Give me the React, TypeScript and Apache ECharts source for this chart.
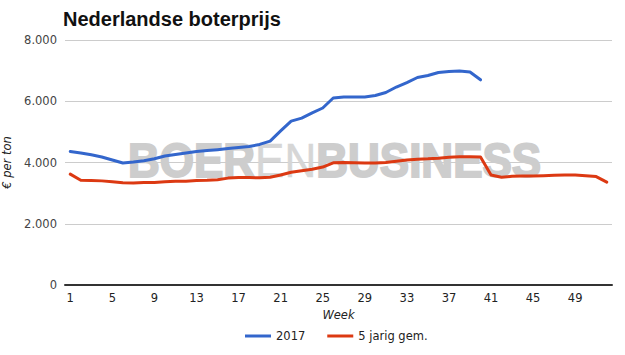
import React, { useEffect, useRef } from "react";
import * as echarts from "echarts";

const weeks: string[] = Array.from({ length: 52 }, (_, i) => String(i + 1));

const series2017: number[] = [
  4360, 4310, 4250, 4180, 4080, 3985, 4015, 4060, 4120, 4210,
  4260, 4310, 4360, 4390, 4420, 4455, 4490, 4520, 4590, 4700,
  5030, 5350, 5450, 5620, 5780, 6105, 6140, 6140, 6140, 6190,
  6285, 6465, 6610, 6775, 6840, 6940, 6970, 6985, 6955, 6700,
];

const series5jarig: number[] = [
  3620, 3420, 3410, 3400, 3370, 3340, 3330, 3350, 3350, 3370,
  3390, 3390, 3410, 3420, 3440, 3490, 3510, 3510, 3500, 3520,
  3590, 3680, 3730, 3780, 3850, 3990, 4000, 3990, 3980, 3980,
  4000, 4040, 4080, 4110, 4120, 4140, 4170, 4190, 4190, 4180,
  3590, 3520, 3550, 3560, 3560, 3570, 3580, 3590, 3590, 3570,
  3540, 3360,
];

const seriesNames: string[] = ["2017", "5 jarig gem."];
const yTicks = { min: 0, max: 8000, interval: 2000 };

const fmt = (v: number) => String(v).replace(/\B(?=(\d{3})+(?!\d))/g, ".");

export default function App() {
  const ref = useRef<HTMLDivElement>(null);
  useEffect(() => {
    if (!ref.current) return;
    const chart = echarts.init(ref.current, undefined, { renderer: "svg" });
    const font = "DejaVu Sans";
    chart.setOption({
      animation: false,
      backgroundColor: "#ffffff",
      title: {
        text: "Nederlandse boterprijs",
        left: 63,
        top: 9,
        padding: 0,
        textStyle: {
          fontFamily: "Liberation Sans",
          fontWeight: "bold",
          fontSize: 20,
          color: "#111",
        },
      },
      graphic: [
        {
          type: "text",
          x: 128,
          y: 160,
          scaleY: 1.1,
          z: 1,
          silent: true,
          style: {
            text: "{b|BOER}{n|EN}{b|BUSINESS}",
            verticalAlign: "middle",
            align: "left",
            rich: {
              b: {
                fontFamily: "Liberation Sans",
                fontWeight: "bold",
                fontSize: 44,
                fill: "#cdcdcd",
                stroke: "#cdcdcd",
                lineWidth: 1.8,
              },
              n: {
                fontFamily: "Liberation Sans",
                fontWeight: "normal",
                fontSize: 44,
                fill: "#d6d6d6",
                stroke: "#d6d6d6",
                lineWidth: 0.5,
              },
            },
          },
        },
      ],
      legend: {
        data: seriesNames,
        left: 245,
        top: 330,
        padding: 0,
        icon: "rect",
        itemWidth: 26,
        itemHeight: 3,
        itemGap: 22,
        textStyle: { fontFamily: font, fontSize: 11.5, color: "#222" },
      },
      grid: { left: 65, right: 13, top: 40, bottom: 70, outerBoundsMode: "none", containLabel: false },
      xAxis: {
        type: "category",
        data: weeks,
        boundaryGap: true,
        name: "Week",
        nameLocation: "middle",
        nameGap: 18,
        nameTextStyle: {
          fontFamily: font,
          fontStyle: "italic",
          fontSize: 11.5,
          color: "#222",
        },
        axisLine: { lineStyle: { color: "#333", width: 2 } },
        axisTick: { show: false },
        axisLabel: {
          interval: 3,
          margin: 7,
          fontFamily: font,
          fontSize: 11.5,
          color: "#222",
        },
        splitLine: { show: false },
      },
      yAxis: {
        type: "value",
        min: yTicks.min,
        max: yTicks.max,
        interval: yTicks.interval,
        name: "€ per ton",
        nameLocation: "middle",
        nameGap: 44,
        nameTextStyle: {
          fontFamily: font,
          fontStyle: "italic",
          fontSize: 11.5,
          color: "#222",
        },
        axisLine: { show: false },
        axisTick: { show: false },
        axisLabel: {
          margin: 8,
          fontFamily: font,
          fontSize: 11.5,
          color: "#444",
          formatter: (v: number) => fmt(v),
        },
        splitLine: { lineStyle: { color: "#cccccc", width: 1 } },
      },
      series: [
        {
          name: seriesNames[0],
          type: "line",
          data: series2017,
          showSymbol: false,
          symbol: "none",
          z: 3,
          itemStyle: { color: "#3366cc" },
          lineStyle: { color: "#3366cc", width: 3, join: "round", cap: "round" },
        },
        {
          name: seriesNames[1],
          type: "line",
          data: series5jarig,
          showSymbol: false,
          symbol: "none",
          z: 3,
          itemStyle: { color: "#dc3912" },
          lineStyle: { color: "#dc3912", width: 3, join: "round", cap: "round" },
        },
      ],
    });
    return () => chart.dispose();
  }, []);
  return (
    <div
      ref={ref}
      style={{ position: "fixed", left: 0, top: 0, width: 625, height: 355 }}
    />
  );
}
